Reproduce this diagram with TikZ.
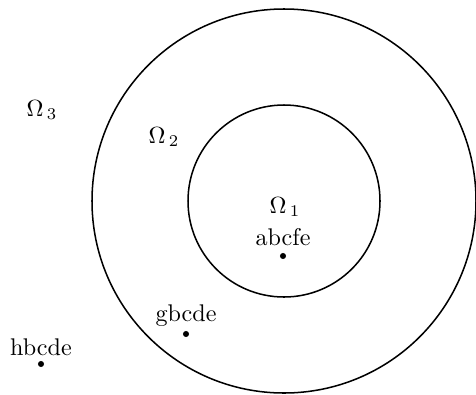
\documentclass[tikz,border=0pt]{standalone}
\begin{document}
\begin{tikzpicture}[x=0.427pt,y=-0.427pt,
  ring/.style={draw,line width=0.65pt},
  lbl/.style={inner sep=0pt,font=\fontsize{10.3}{12}\selectfont},
  pt/.style={fill,circle,inner sep=0pt,minimum size=2.6pt}]
\useasboundingbox (0,0) rectangle (476,394);
\clip (0,0) rectangle (476,394);
\coordinate (c) at (284,201);
\draw[ring] (c) circle[radius=192];
\draw[ring] (c) circle[radius=96];
\node[lbl] (o3) at (42,110) {$\Omega_{\hspace{1.5pt}3}$};
\node[lbl] (o2) at (164,137) {$\Omega_{\hspace{1.5pt}2}$};
\node[lbl] (o1) at (285,207) {$\Omega_{\hspace{1.5pt}1}$};
\node[lbl] (t1) at (283,237) {abcfe};
\node[pt] (p1) at (283,256) {};
\node[lbl] (t2) at (186,316) {gbcde};
\node[pt] (p2) at (186,334) {};
\node[lbl] (t3) at (41,347) {hbcde};
\node[pt] (p3) at (41,364) {};
\end{tikzpicture}
\end{document}
